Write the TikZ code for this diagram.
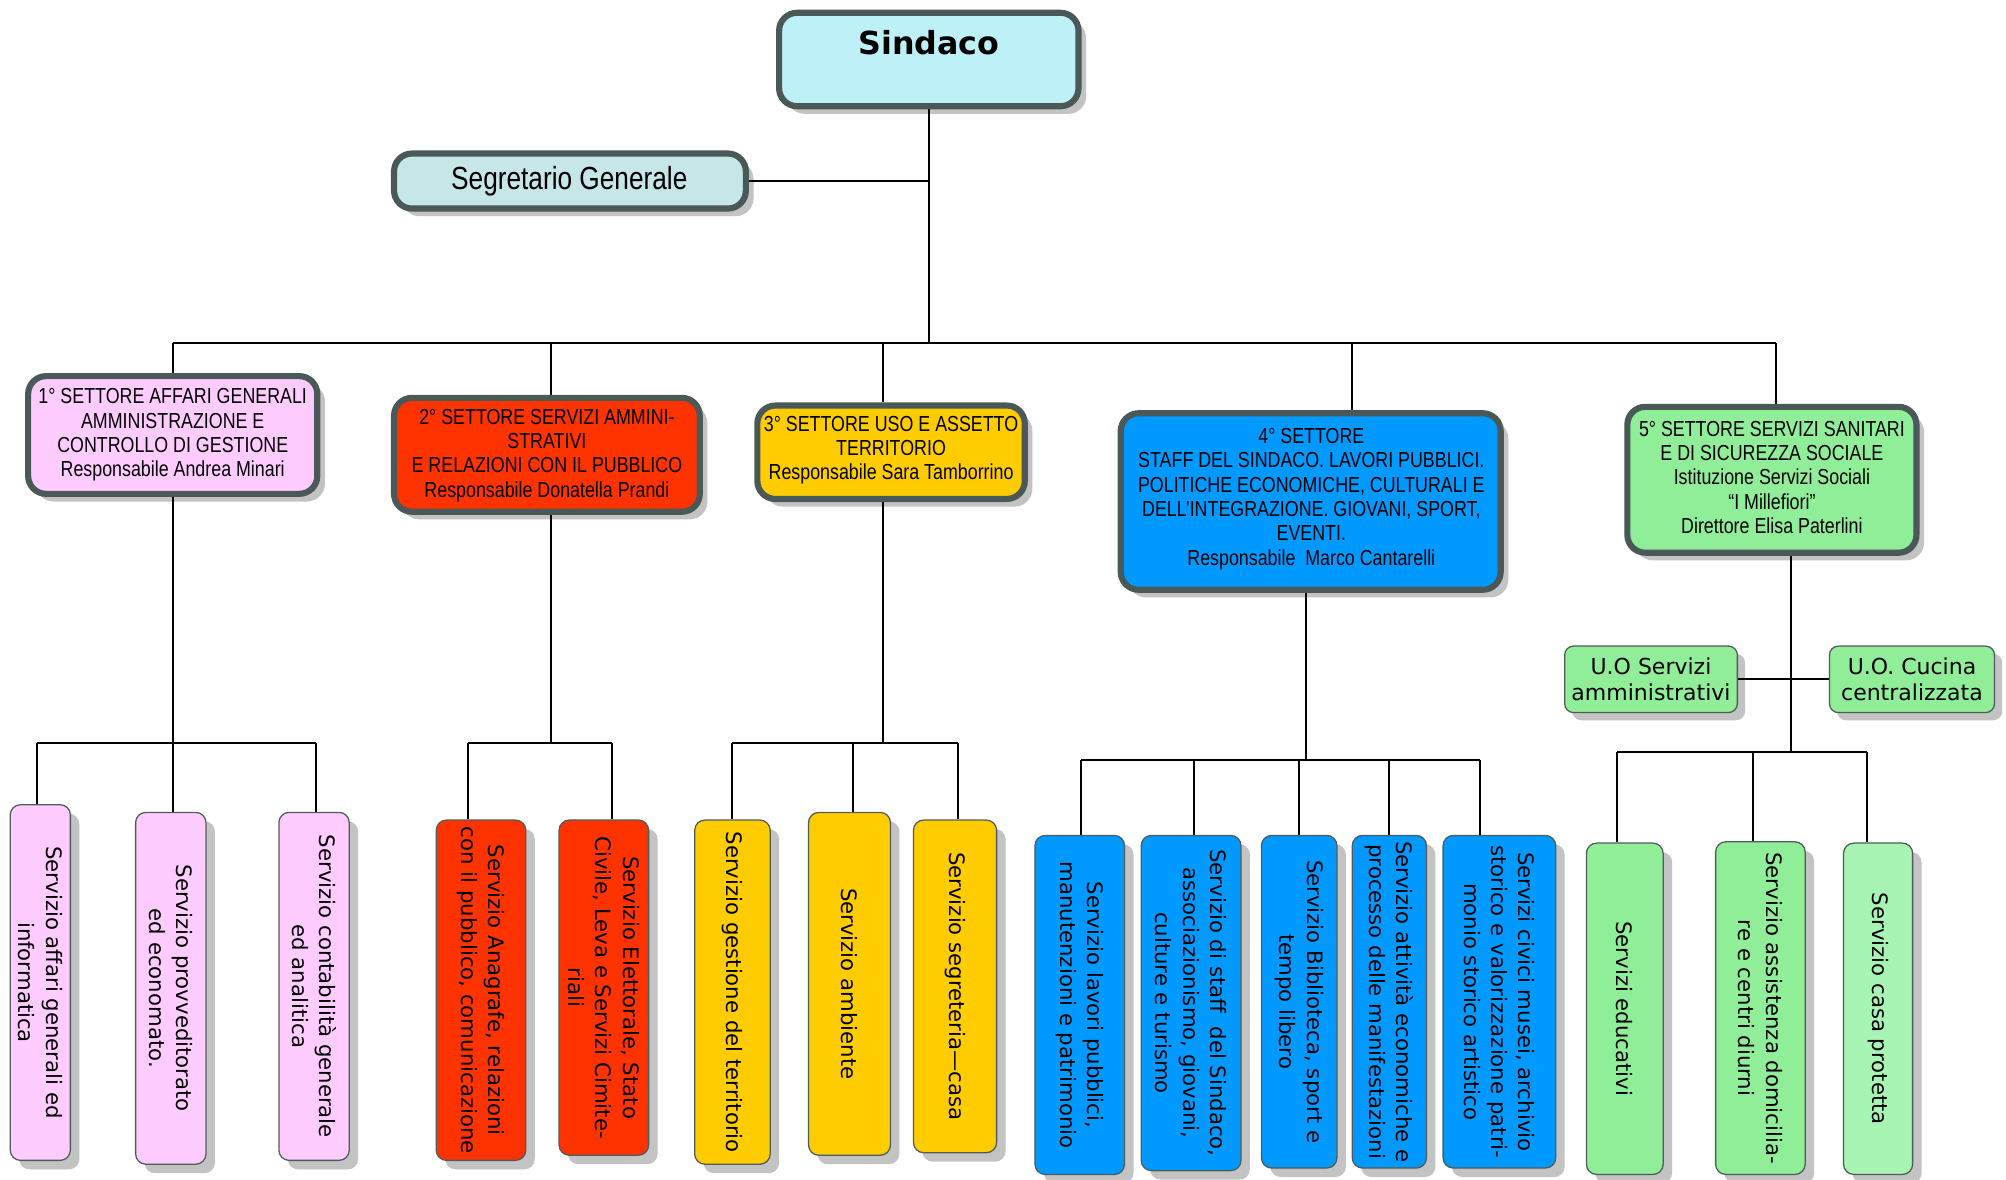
\documentclass[tikz,border=0pt]{standalone}
\usepackage{fontspec}
\newfontfamily\narrowfont[FakeStretch=0.82]{Liberation Sans}
\newfontfamily\dejavu{DejaVu Sans}
\usetikzlibrary{shadows,fit}
\definecolor{bordc}{HTML}{4A5858}
\definecolor{svcbord}{HTML}{505C5C}
\definecolor{shadowc}{HTML}{C3C3C3}
\definecolor{sindc}{HTML}{BEF0F8}
\definecolor{segc}{HTML}{C6E6E8}
\definecolor{pinkc}{HTML}{FFCCFF}
\definecolor{redc}{HTML}{FF3300}
\definecolor{yellc}{HTML}{FFCC00}
\definecolor{bluec}{HTML}{0099FF}
\definecolor{greenc}{HTML}{90EE98}
\definecolor{lgreenc}{HTML}{A8F4B4}
\newcommand\mksvc[7]{%
  \node[svcbox, fill=#6, fit={(#2,#3) (#4,#5)}] (#1) {};
  \node[svctext] (#1t) at (#1.center) {#7};}
\begin{document}
\begin{tikzpicture}[x=0.5pt,y=-0.5pt,
  sector/.style={draw=bordc, line width=2.4pt, rounded corners=7pt, inner sep=0pt,
    drop shadow={shadow xshift=3pt, shadow yshift=-3pt, fill=shadowc, opacity=1}},
  sectext/.style={align=center, inner sep=0pt, font=\narrowfont\fontsize{8.5}{9.5}\selectfont},
  svcbox/.style={draw=svcbord, line width=0.5pt, rounded corners=4pt, inner sep=0pt,
    drop shadow={shadow xshift=3.5pt, shadow yshift=-3.5pt, fill=shadowc, opacity=1}},
  svctext/.style={rotate=-90, align=center, inner sep=0pt,
    font=\dejavu\fontsize{8.3}{10.7}\selectfont},
  uobox/.style={draw=svcbord, line width=0.5pt, rounded corners=3.5pt, inner sep=0pt,
    fill=greenc,
    drop shadow={shadow xshift=3pt, shadow yshift=-3pt, fill=shadowc, opacity=1}},
  uotext/.style={align=center, inner sep=0pt, font=\dejavu\fontsize{8.6}{10}\selectfont},
  conn/.style={line width=0.8pt, black}
]
\useasboundingbox[fill=white] (0,0) rectangle (1568,922);

% top
\node[sector, fill=sindc, fit={(609,10) (843,83)}] (sind) {};
\node[font=\dejavu\bfseries\fontsize{12.4}{14}\selectfont, inner sep=0pt] (sindt) at (726,33) {Sindaco};
\node[sector, fill=segc, fit={(308,120) (583,163)}] (seg) {};
\node[inner sep=0pt, font=\narrowfont\fontsize{12.5}{14}\selectfont] (segt) at (445,141.5) {Segretario Generale};

% sectors
\node[sector, fill=pinkc, fit={(22,294) (248,386)}] (s1) {};
\node[sectext] (s1t) at (135,340)
  {1° SETTORE AFFARI GENERALI\\AMMINISTRAZIONE E\\CONTROLLO DI GESTIONE\\Responsabile Andrea Minari};
\node[sector, fill=redc, fit={(308,311) (547,400)}] (s2) {};
\node[sectext] (s2t) at (427.5,356)
  {2° SETTORE SERVIZI AMMINI-\\STRATIVI\\E RELAZIONI CON IL PUBBLICO\\Responsabile Donatella Prandi};
\node[sector, fill=yellc, fit={(592,317) (801,390)}] (s3) {};
\node[sectext] (s3t) at (696.5,352)
  {3° SETTORE USO E ASSETTO\\TERRITORIO\\Responsabile Sara Tamborrino};
\node[sector, fill=bluec, fit={(876,323) (1173,461)}] (s4) {};
\node[sectext] (s4t) at (1025,390)
  {4° SETTORE\\STAFF DEL SINDACO. LAVORI PUBBLICI.\\POLITICHE ECONOMICHE, CULTURALI E\\DELL’INTEGRAZIONE. GIOVANI, SPORT,\\EVENTI.\\Responsabile\ \ Marco Cantarelli};
\node[sector, fill=greenc, fit={(1272,318) (1498,432)}] (s5) {};
\node[sectext] (s5t) at (1385,373)
  {5° SETTORE SERVIZI SANITARI\\E DI SICUREZZA SOCIALE\\Istituzione Servizi Sociali\\“I Millefiori”\\Direttore Elisa Paterlini};

% U.O. boxes
\node[uobox, fit={(1223,505) (1358,557)}] (uo1) {};
\node[uotext] (uo1t) at (uo1.center) {U.O Servizi\\amministrativi};
\node[uobox, fit={(1430,505) (1559,557)}] (uo2) {};
\node[uotext] (uo2t) at (uo2.center) {U.O. Cucina\\centralizzata};

% service boxes
\mksvc{p1}{8}{629}{55}{907}{pinkc}{Servizio affari generali ed\\informatica}
\mksvc{p2}{106}{635}{161}{910}{pinkc}{Servizio provveditorato\\ed economato.}
\mksvc{p3}{218}{635}{273}{907}{pinkc}{Servizio contabilità generale\\ed analitica}
\mksvc{r1}{341}{641}{411}{907}{redc}{Servizio Anagrafe, relazioni\\con il pubblico, comunicazione}
\mksvc{r2}{437}{641}{507}{903}{redc}{Servizio Elettorale, Stato\\Civile, Leva e Servizi Cimite-\\riali}
\mksvc{y1}{543}{641}{602}{910}{yellc}{Servizio gestione del territorio}
\mksvc{y2}{632}{635}{696}{903}{yellc}{Servizio ambiente}
\mksvc{y3}{714}{641}{779}{901}{yellc}{Servizio segreteria—casa}
\mksvc{b1}{809}{653}{879}{918}{bluec}{Servizio lavori pubblici,\\manutenzioni e patrimonio}
\mksvc{b2}{892}{653}{970}{915}{bluec}{Servizio di staff\ \ del Sindaco,\\associazionismo, giovani,\\culture e turismo}
\mksvc{b3}{986}{653}{1045}{913}{bluec}{Servizio Biblioteca, sport e\\tempo libero}
\mksvc{b4}{1057}{653}{1115}{913}{bluec}{Servizio attività economiche e\\processo delle manifestazioni}
\mksvc{b5}{1128}{653}{1216}{913}{bluec}{Servizi civici musei, archivio\\storico e valorizzazione patri-\\monio storico artistico}
\mksvc{g1}{1240}{659}{1300}{918}{greenc}{Servizi educativi}
\mksvc{g2}{1341}{658}{1411}{918}{greenc}{Servizio assistenza domicilia-\\re e centri diurni}
\mksvc{g3}{1441}{659}{1495}{918}{lgreenc}{Servizio casa protetta}

% coordinates
\coordinate (tb) at (726,268);
\coordinate (t1) at (135,268);
\coordinate (t2) at (431,268);
\coordinate (t3) at (690,268);
\coordinate (t4) at (1057,268);
\coordinate (t5) at (1388,268);
\coordinate (d1) at (135,581);
\coordinate (d2) at (431,581);
\coordinate (d3) at (690,581);
\coordinate (d4) at (1021,594);
\coordinate (d5) at (1400,588);
\coordinate (a1) at (29,581);
\coordinate (a3) at (247,581);
\coordinate (q1) at (366,581);
\coordinate (q2) at (478,581);
\coordinate (e1) at (572,581);
\coordinate (e2) at (667,581);
\coordinate (e3) at (749,581);
\coordinate (c1) at (845,594);
\coordinate (c2) at (933,594);
\coordinate (c3) at (1015,594);
\coordinate (c4) at (1086,594);
\coordinate (c5) at (1157,594);
\coordinate (f1) at (1264,588);
\coordinate (f2) at (1370,588);
\coordinate (f3) at (1459,588);

% connectors
\draw[conn] (tb |- sind.south) -- (tb);
\draw[conn] (seg.east) -- (seg.east -| tb);
\draw[conn] (t1) -- (t5);
\draw[conn] (t1) -- (t1 |- s1.north);
\draw[conn] (t2) -- (t2 |- s2.north);
\draw[conn] (t3) -- (t3 |- s3.north);
\draw[conn] (t4) -- (t4 |- s4.north);
\draw[conn] (t5) -- (t5 |- s5.north);

\draw[conn] (d1 |- s1.south) -- (d1);
\draw[conn] (a1) -- (a3);
\draw[conn] (a1) -- (a1 |- p1.north);
\draw[conn] (d1) -- (d1 |- p2.north);
\draw[conn] (a3) -- (a3 |- p3.north);

\draw[conn] (d2 |- s2.south) -- (d2);
\draw[conn] (q1) -- (q2);
\draw[conn] (q1) -- (q1 |- r1.north);
\draw[conn] (q2) -- (q2 |- r2.north);

\draw[conn] (d3 |- s3.south) -- (d3);
\draw[conn] (e1) -- (e3);
\draw[conn] (e1) -- (e1 |- y1.north);
\draw[conn] (e2) -- (e2 |- y2.north);
\draw[conn] (e3) -- (e3 |- y3.north);

\draw[conn] (d4 |- s4.south) -- (d4);
\draw[conn] (c1) -- (c5);
\draw[conn] (c1) -- (c1 |- b1.north);
\draw[conn] (c2) -- (c2 |- b2.north);
\draw[conn] (c3) -- (c3 |- b3.north);
\draw[conn] (c4) -- (c4 |- b4.north);
\draw[conn] (c5) -- (c5 |- b5.north);

\draw[conn] (d5 |- s5.south) -- (d5);
\draw[conn] (uo1.east) -- (uo2.west);
\draw[conn] (f1) -- (f3);
\draw[conn] (f1) -- (f1 |- g1.north);
\draw[conn] (f2) -- (f2 |- g2.north);
\draw[conn] (f3) -- (f3 |- g3.north);
\end{tikzpicture}
\end{document}
